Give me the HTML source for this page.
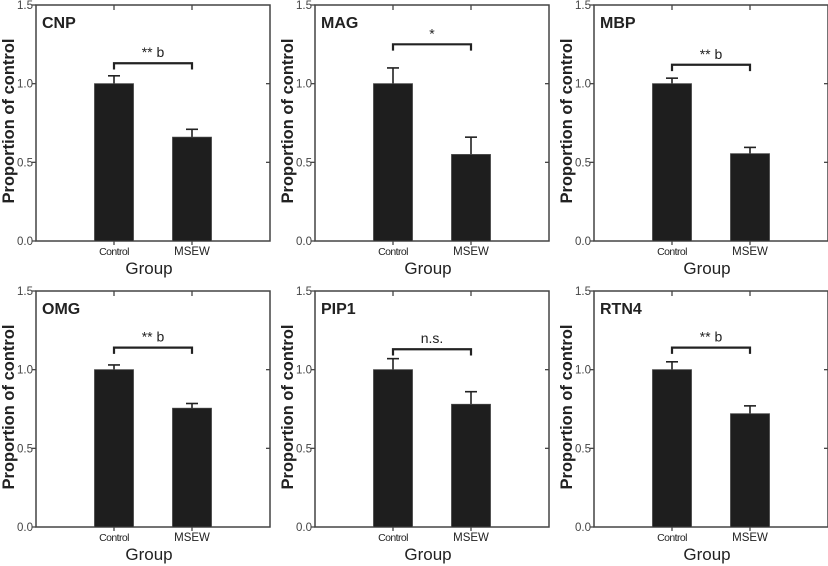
<!DOCTYPE html>
<html><head><meta charset="utf-8"><style>
html,body{margin:0;padding:0;background:#fff;}
svg{display:block;font-family:"Liberation Sans",Arial,sans-serif;}
</style></head><body>
<svg id="c" width="828" height="566" viewBox="0 0 828 566"></svg>
<script>
const genes = ["CNP","MAG","MBP","OMG","PIP1","RTN4"];
const categories = ["Control","MSEW"];
const controlMeans = [1.0,1.0,1.0,1.0,1.0,1.0];
const controlErrs = [0.05,0.10,0.035,0.03,0.07,0.05];
const msewMeans = [0.66,0.55,0.555,0.755,0.78,0.72];
const msewErrs = [0.05,0.11,0.04,0.03,0.08,0.05];
const sigLabels = ["** b","*","** b","** b","n.s.","** b"];
const bracketLevels = [1.13,1.25,1.12,1.14,1.13,1.14];
const yTicks = [0,0.5,1.0,1.5];
const yTickLabels = ["0.0","0.5","1.0","1.5"];

const svg = document.getElementById('c');
const NS = "http://www.w3.org/2000/svg";
function mk(tag, attrs, parent){const e=document.createElementNS(NS,tag);for(const k in attrs)e.setAttribute(k,attrs[k]);(parent||svg).appendChild(e);return e;}

const lefts=[36,315,594,36,315,594], tops=[5,5,5,291,291,291];
const W=234,H=236,YMAX=1.5,BW=39;
genes.forEach((g,i)=>{
  const L=lefts[i],T=tops[i],B=T+H;
  const grp=mk('g',{});
  
  
  const y=v=>B-v/YMAX*H;
  const x=j=>L+W*(j+1)/3;
  const box=mk('rect',{x:L,y:T,width:W,height:H,fill:'none',stroke:'#444','stroke-width':1.5},grp);
  
  yTicks.forEach((t,k)=>{
    mk('line',{x1:L-4,x2:L,y1:y(t),y2:y(t),stroke:'#444','stroke-width':1.3},grp);
    if(t>0&&t<YMAX) mk('line',{x1:L+W-4,x2:L+W,y1:y(t),y2:y(t),stroke:'#444','stroke-width':1.3},grp);
    const tl=mk('text',{x:L-3,y:y(t)+4,'text-anchor':'end','font-size':11.5,fill:'#444'},grp);
    tl.textContent=yTickLabels[k];
    
  });
  categories.forEach((c,j)=>{
    mk('line',{x1:x(j),x2:x(j),y1:T,y2:T+5,stroke:'#444','stroke-width':1.3},grp);
    mk('line',{x1:x(j),x2:x(j),y1:B,y2:B+4,stroke:'#444','stroke-width':1.3},grp);
    const m=j===0?controlMeans[i]:msewMeans[i], e=j===0?controlErrs[i]:msewErrs[i];
    mk('line',{x1:x(j),x2:x(j),y1:y(m),y2:y(m+e),stroke:'#222','stroke-width':1.6},grp);
    mk('line',{x1:x(j)-6,x2:x(j)+6,y1:y(m+e),y2:y(m+e),stroke:'#222','stroke-width':1.6},grp);
    const bar=mk('rect',{x:x(j)-BW/2,y:y(m),width:BW,height:y(0)-y(m),fill:'#1e1e1e',stroke:'#444','stroke-width':0.8},grp);
    
    const cl=mk('text',{x:x(j),y:B+14,'text-anchor':'middle','font-size':c==='Control'?10.5:11.5,fill:'#222','letter-spacing':c==='Control'?'-0.6':'0'},grp);
    cl.textContent=c;
  });
  const bl=bracketLevels[i];
  mk('path',{d:`M${x(0)},${y(bl-0.04)}V${y(bl)}H${x(1)}V${y(bl-0.04)}`,fill:'none',stroke:'#222','stroke-width':2.2},grp);
  const st=mk('text',{x:(x(0)+x(1))/2,y:y(bl)-6,'text-anchor':'middle','font-size':14,fill:'#222'},grp);
  st.textContent=sigLabels[i];
  const tt=mk('text',{x:L+6,y:T+23,'font-size':16,'font-weight':'bold',fill:'#222'},grp);
  tt.textContent=g;
  const xt=mk('text',{x:L+W/2-4,y:B+33,'text-anchor':'middle','font-size':17,fill:'#222'},grp);
  xt.textContent='Group';
  const yt=mk('text',{x:0,y:0,'text-anchor':'middle','font-size':16.5,'font-weight':'bold',fill:'#222',transform:`translate(${L-22},${T+H/2-2}) rotate(-90)`},grp);
  yt.textContent='Proportion of control';
});
</script>
</body></html>
